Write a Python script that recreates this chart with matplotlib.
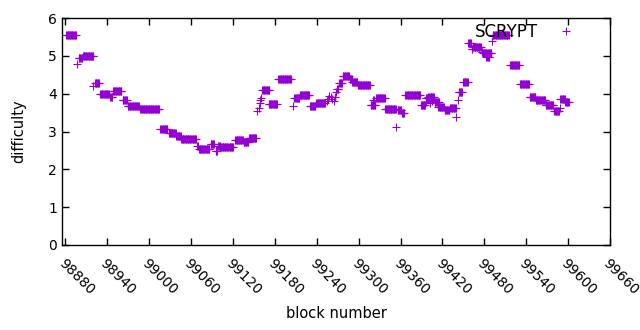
import matplotlib
matplotlib.use("Agg")
import matplotlib.pyplot as plt
import matplotlib.transforms as mtransforms
import numpy as np

# runs of constant difficulty: first block, last block, difficulty
run_first = [98881, 98897, 98899, 98905, 98920, 98922, 98930, 98944, 98948, 98962,
             98969, 98987, 99016, 99028, 99039, 99046, 99069, 99071, 99088, 99095,
             99099, 99102, 99123, 99135, 99143, 99155, 99157, 99158, 99159, 99160,
             99162, 99171, 99185, 99206, 99208, 99216, 99230, 99239, 99254, 99256,
             99258, 99260, 99262, 99264, 99266, 99267, 99269, 99272, 99277, 99287,
             99291, 99299, 99317, 99321, 99325, 99338, 99354, 99356, 99362, 99367,
             99389, 99396, 99397, 99400, 99402, 99405, 99409, 99414, 99417, 99423,
             99431, 99440, 99442, 99443, 99450, 99457, 99462, 99464, 99476, 99478,
             99483, 99491, 99492, 99517, 99531, 99545, 99554, 99568, 99580, 99588,
             99589, 99596]
run_last = [98895, 98897, 98904, 98920, 98920, 98928, 98942, 98947, 98960, 98968,
            98985, 99014, 99026, 99038, 99045, 99067, 99070, 99086, 99093, 99097,
            99101, 99120, 99134, 99142, 99153, 99155, 99157, 99158, 99159, 99160,
            99172, 99183, 99203, 99206, 99215, 99229, 99238, 99252, 99254, 99256,
            99258, 99260, 99262, 99264, 99266, 99267, 99271, 99276, 99286, 99290,
            99298, 99316, 99324, 99322, 99337, 99353, 99354, 99361, 99365, 99388,
            99395, 99399, 99397, 99408, 99402, 99405, 99415, 99416, 99422, 99430,
            99439, 99440, 99442, 99448, 99456, 99461, 99463, 99475, 99477, 99490,
            99487, 99491, 99515, 99530, 99544, 99553, 99567, 99579, 99587, 99588,
            99595, 99601]
run_diff = [5.56, 4.78, 4.93, 5.00, 4.20, 4.28, 4.00, 3.90, 4.06, 3.83,
            3.67, 3.60, 3.06, 2.95, 2.87, 2.80, 2.62, 2.54, 2.67, 2.49,
            2.62, 2.59, 2.78, 2.71, 2.82, 3.53, 3.62, 3.75, 3.82, 3.88,
            4.09, 3.72, 4.38, 3.67, 3.88, 3.96, 3.68, 3.76, 3.80, 3.85,
            3.95, 3.90, 3.85, 3.80, 3.90, 4.05, 4.12, 4.29, 4.46, 4.38,
            4.32, 4.22, 3.70, 3.83, 3.88, 3.59, 3.11, 3.56, 3.48, 3.96,
            3.70, 3.89, 3.78, 3.90, 3.75, 3.80, 3.79, 3.65, 3.65, 3.56,
            3.62, 3.39, 3.83, 4.05, 4.31, 5.33, 5.18, 5.24, 5.10, 5.07,
            4.98, 5.40, 5.56, 4.76, 4.25, 3.90, 3.84, 3.70, 3.54, 3.62,
            3.86, 3.78]

x_ticks = list(range(98880, 99661, 60))

blocks = np.concatenate([np.arange(a, b + 1) for a, b in zip(run_first, run_last)])
difficulty = np.concatenate([np.full(b - a + 1, d) for a, b, d in zip(run_first, run_last, run_diff)])

fig = plt.figure(figsize=(6.4, 3.3), dpi=100)
ax = fig.add_axes([62 / 640, 85 / 330, 548 / 640, 227 / 330])

ax.plot(blocks, difficulty, linestyle='none', marker='+', markersize=5.6,
        markeredgewidth=0.8, color='#9400d3', label='SCRYPT')

ax.set_xlim(98875, 99660)
ax.set_ylim(0, 6)
ax.set_xticks(x_ticks)
ax.set_yticks(range(0, 7))
ax.tick_params(direction='in', top=True, right=True, length=5, width=1,
               labelsize=10, colors='black')
shift = mtransforms.ScaledTranslation(4 / 100, 0, fig.dpi_scale_trans)
for lbl in ax.get_xticklabels():
    lbl.set_rotation(-45)
    lbl.set_ha('left')
    lbl.set_va('top')
    lbl.set_rotation_mode('anchor')
    lbl.set_transform(lbl.get_transform() + shift)
ax.tick_params(axis='x', pad=8)
for s in ax.spines.values():
    s.set_linewidth(1)

ax.set_xlabel('block number', fontsize=10.5, labelpad=6)
ax.set_ylabel('difficulty', fontsize=10.5, labelpad=16)

ax.legend(loc='upper right', frameon=False, markerfirst=False, fontsize=12,
          bbox_to_anchor=(0.97, 1.045), handlelength=1.5, handletextpad=0.95)

fig.savefig('out.png', dpi=100)
